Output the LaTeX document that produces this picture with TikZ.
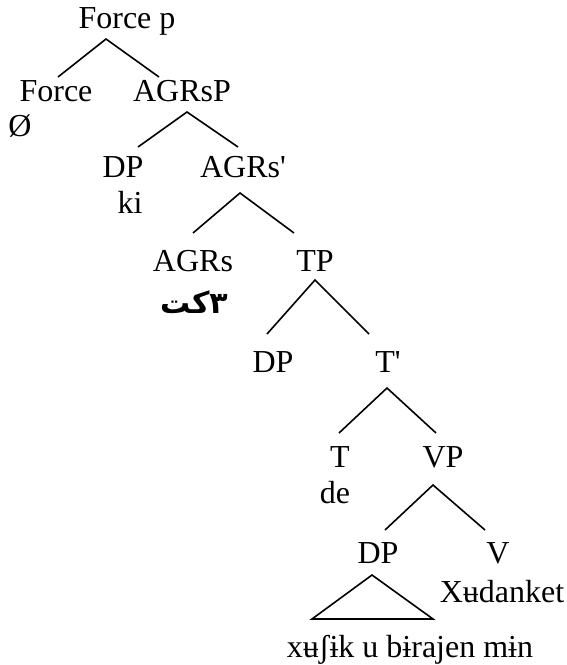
\documentclass[tikz,border=0pt]{standalone}
\usepackage{fontspec}
\setmainfont{Liberation Serif}
\newfontfamily\arabicfont[Script=Arabic]{DejaVu Sans}
\TeXXeTstate=1
\usetikzlibrary{positioning}

\begin{document}
\begin{tikzpicture}[x=0.5pt,y=-0.5pt,font=\fontsize{16}{19}\selectfont]
  \tikzset{lbl/.style={inner sep=0pt,anchor=base},
           branch/.style={black,line width=0.8pt}}
  \useasboundingbox (0,0) rectangle (567,665);

  % labels
  \node[lbl] (fp)     at (127,28)  {Force p};
  \node[lbl] (force)  at (56,101)  {Force};
  \node[lbl] (null)   at (20,136)  {Ø};
  \node[lbl] (agrsp)  at (182,101) {AGRsP};
  \node[lbl] (dpa)    at (123,177) {DP};
  \node[lbl] (ki)     at (130,213) {ki};
  \node[lbl] (agrsb)  at (243,177) {AGRs\textquotesingle};
  \node[lbl] (agrs)   at (193,271) {AGRs};
  \node[lbl] (arab)   at (194,313) {\arabicfont\bfseries\fontsize{15}{18}\selectfont\beginR ٣كت\endR};
  \node[lbl] (tp)     at (315,271) {TP};
  \node[lbl] (dpb)    at (273,372) {DP};
  \node[lbl] (tb)     at (388,372) {T\textquotesingle};
  \node[lbl] (t)      at (340,467) {T};
  \node[lbl] (de)     at (335,503) {de};
  \node[lbl] (vp)     at (443,467) {VP};
  \node[lbl] (dpc)    at (378,563) {DP};
  \node[lbl] (v)      at (498,563) {V};
  \node[lbl] (xud)    at (502,602) {Xʉdanket};
  \node[lbl] (phrase) at (410,657) {xʉʃɨk u bɨrajen mɨn};

  % branch points
  \coordinate (fp-a)    at (106,39);
  \coordinate (force-t) at (58,77);
  \coordinate (agrsp-t) at (159,77);
  \coordinate (agrsp-a) at (187,112);
  \coordinate (dpa-t)   at (138,147);
  \coordinate (agrsb-t) at (238,147);
  \coordinate (agrsb-a) at (240,193);
  \coordinate (agrs-t)  at (193,233);
  \coordinate (tp-t)    at (294,233);
  \coordinate (tp-a)    at (315,280);
  \coordinate (dpb-t)   at (267,334);
  \coordinate (tb-t)    at (369,334);
  \coordinate (tb-a)    at (387,388);
  \coordinate (t-t)     at (339,433);
  \coordinate (vp-t)    at (436,433);
  \coordinate (vp-a)    at (433,485);
  \coordinate (dpc-t)   at (385,530);
  \coordinate (v-t)     at (485,530);
  \coordinate (dpc-a)   at (372,575);
  \coordinate (tri-l)   at (312,619);
  \coordinate (tri-r)   at (433,619);

  \draw[branch] (force-t) -- (fp-a) -- (agrsp-t);
  \draw[branch] (dpa-t) -- (agrsp-a) -- (agrsb-t);
  \draw[branch] (agrs-t) -- (agrsb-a) -- (tp-t);
  \draw[branch] (dpb-t) -- (tp-a) -- (tb-t);
  \draw[branch] (t-t) -- (tb-a) -- (vp-t);
  \draw[branch] (dpc-t) -- (vp-a) -- (v-t);
  \draw[branch] (dpc-a) -- (tri-l) -- (tri-r) -- cycle;
\end{tikzpicture}
\end{document}
